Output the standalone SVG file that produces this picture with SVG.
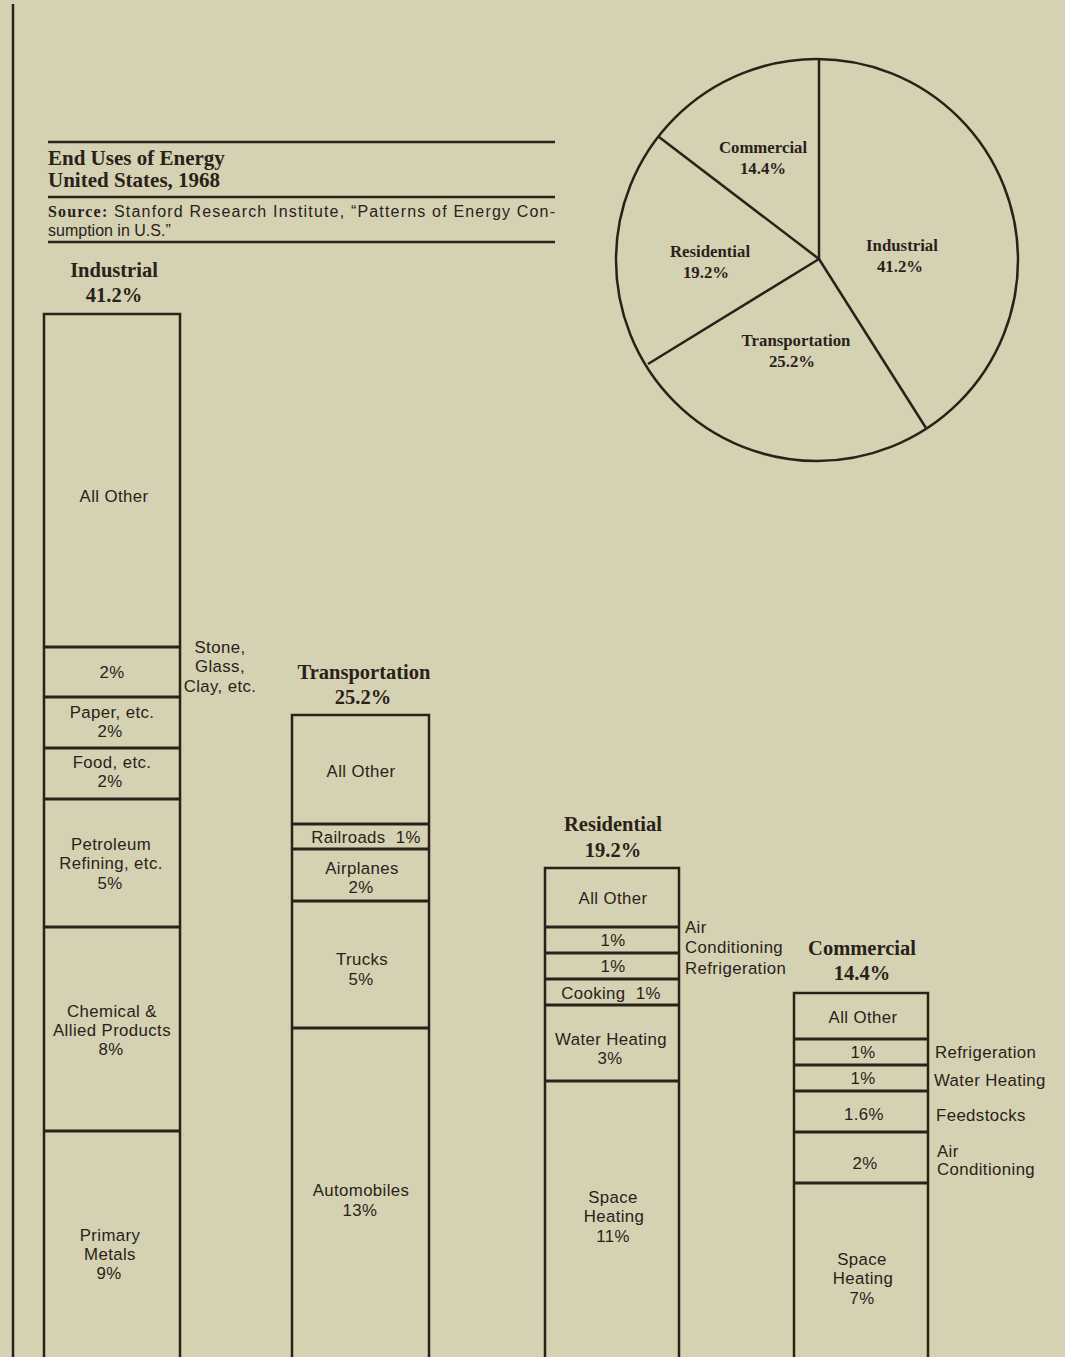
<svg xmlns="http://www.w3.org/2000/svg" width="1065" height="1357" viewBox="0 0 1065 1357">
<style>
.ln{stroke:#2b2119;stroke-width:2.5;fill:none}
.dv{stroke:#2b2119;stroke-width:3}
.t{font-family:"Liberation Sans",Arial,sans-serif;font-size:16.8px;fill:#2b2119;text-anchor:middle;letter-spacing:0.4px;white-space:pre}
.s{font-family:"Liberation Sans",Arial,sans-serif;font-size:16.8px;fill:#2b2119;letter-spacing:0.4px}
.h{font-family:"Liberation Serif","Times New Roman",serif;font-size:20.5px;font-weight:bold;fill:#2b2119;text-anchor:middle}
.p{font-family:"Liberation Serif","Times New Roman",serif;font-size:16.8px;font-weight:bold;fill:#2b2119;text-anchor:middle}
.ti{font-family:"Liberation Serif","Times New Roman",serif;font-size:21px;font-weight:bold;fill:#2b2119}
.src{font-family:"Liberation Sans",Arial,sans-serif;font-size:16px;fill:#2b2119}
</style>
<rect width="1065" height="1357" fill="#d4d2b3"/>
<line x1="13" y1="4" x2="13" y2="1357" class="ln" stroke-width="2"/>

<g id="title">
<line x1="48" y1="142" x2="555" y2="142" class="ln" stroke-width="1.8"/>
<text x="48" y="165" class="ti">End Uses of Energy</text>
<text x="48" y="187" class="ti">United States, 1968</text>
<line x1="48" y1="197" x2="555" y2="197" class="ln" stroke-width="1.8"/>
<text x="48" y="217" class="src" textLength="507" lengthAdjust="spacing"><tspan font-family="'Liberation Serif',serif" font-weight="bold">Source:</tspan> Stanford Research Institute, “Patterns of Energy Con-</text>
<text x="48" y="236" class="src">sumption in U.S.”</text>
<line x1="48" y1="242" x2="555" y2="242" class="ln" stroke-width="1.8"/>
</g>

<g id="pie">
<circle cx="817" cy="260" r="201" class="ln"/>
<g id="pie-connectors">
<line x1="819" y1="259" x2="819" y2="60" class="ln"/>
<line x1="819" y1="259" x2="926" y2="428" class="ln"/>
<line x1="819" y1="259" x2="648" y2="364" class="ln"/>
<line x1="819" y1="259" x2="659" y2="137" class="ln"/>
</g>
<text x="763" y="153" class="p">Commercial</text>
<text x="763" y="174" class="p">14.4%</text>
<text x="902" y="251" class="p">Industrial</text>
<text x="900" y="272" class="p">41.2%</text>
<text x="710" y="257" class="p">Residential</text>
<text x="706" y="278" class="p">19.2%</text>
<text x="796" y="346" class="p">Transportation</text>
<text x="792" y="367" class="p">25.2%</text>
</g>

<g id="industrial">
<text x="114" y="277" class="h">Industrial</text>
<text x="114" y="302" class="h">41.2%</text>
<rect x="44" y="314" width="136" height="1060" class="ln"/>
<line x1="44" y1="647" x2="180" y2="647" class="dv"/>
<line x1="44" y1="697" x2="180" y2="697" class="dv"/>
<line x1="44" y1="748" x2="180" y2="748" class="dv"/>
<line x1="44" y1="799" x2="180" y2="799" class="dv"/>
<line x1="44" y1="927" x2="180" y2="927" class="dv"/>
<line x1="44" y1="1131" x2="180" y2="1131" class="dv"/>
<text x="114" y="502" class="t">All Other</text>
<text x="112" y="678" class="t">2%</text>
<text x="112" y="718" class="t">Paper, etc.</text>
<text x="110" y="737" class="t">2%</text>
<text x="112" y="768" class="t">Food, etc.</text>
<text x="110" y="787" class="t">2%</text>
<text x="111" y="850" class="t">Petroleum</text>
<text x="111" y="869" class="t">Refining, etc.</text>
<text x="110" y="889" class="t">5%</text>
<text x="112" y="1017" class="t">Chemical &amp;</text>
<text x="112" y="1036" class="t">Allied Products</text>
<text x="111" y="1055" class="t">8%</text>
<text x="110" y="1241" class="t">Primary</text>
<text x="110" y="1260" class="t">Metals</text>
<text x="109" y="1279" class="t">9%</text>
<text x="220" y="653" class="t">Stone,</text>
<text x="220" y="672" class="t">Glass,</text>
<text x="220" y="692" class="t">Clay, etc.</text>
</g>

<g id="transportation">
<text x="364" y="679" class="h">Transportation</text>
<text x="363" y="704" class="h">25.2%</text>
<rect x="292" y="715" width="137" height="660" class="ln"/>
<line x1="292" y1="824" x2="429" y2="824" class="dv"/>
<line x1="292" y1="849" x2="429" y2="849" class="dv"/>
<line x1="292" y1="901" x2="429" y2="901" class="dv"/>
<line x1="292" y1="1028" x2="429" y2="1028" class="dv"/>
<text x="361" y="777" class="t">All Other</text>
<text x="366" y="843" class="t">Railroads  1%</text>
<text x="362" y="874" class="t">Airplanes</text>
<text x="361" y="893" class="t">2%</text>
<text x="362" y="965" class="t">Trucks</text>
<text x="361" y="985" class="t">5%</text>
<text x="361" y="1196" class="t">Automobiles</text>
<text x="360" y="1216" class="t">13%</text>
</g>

<g id="residential">
<text x="613" y="831" class="h">Residential</text>
<text x="613" y="857" class="h">19.2%</text>
<rect x="545" y="868" width="134" height="510" class="ln"/>
<line x1="545" y1="927" x2="679" y2="927" class="dv"/>
<line x1="545" y1="953" x2="679" y2="953" class="dv"/>
<line x1="545" y1="979" x2="679" y2="979" class="dv"/>
<line x1="545" y1="1005" x2="679" y2="1005" class="dv"/>
<line x1="545" y1="1081" x2="679" y2="1081" class="dv"/>
<text x="613" y="904" class="t">All Other</text>
<text x="613" y="946" class="t">1%</text>
<text x="613" y="972" class="t">1%</text>
<text x="611" y="999" class="t">Cooking  1%</text>
<text x="611" y="1045" class="t">Water Heating</text>
<text x="610" y="1064" class="t">3%</text>
<text x="613" y="1203" class="t">Space</text>
<text x="614" y="1222" class="t">Heating</text>
<text x="613" y="1242" class="t">11%</text>
<text x="685" y="933" class="s">Air</text>
<text x="685" y="953" class="s">Conditioning</text>
<text x="685" y="974" class="s">Refrigeration</text>
</g>

<g id="commercial">
<text x="862" y="955" class="h">Commercial</text>
<text x="862" y="980" class="h">14.4%</text>
<rect x="794" y="993" width="134" height="390" class="ln"/>
<line x1="794" y1="1039" x2="928" y2="1039" class="dv"/>
<line x1="794" y1="1065" x2="928" y2="1065" class="dv"/>
<line x1="794" y1="1091" x2="928" y2="1091" class="dv"/>
<line x1="794" y1="1132" x2="928" y2="1132" class="dv"/>
<line x1="794" y1="1183" x2="928" y2="1183" class="dv"/>
<text x="863" y="1023" class="t">All Other</text>
<text x="863" y="1058" class="t">1%</text>
<text x="863" y="1084" class="t">1%</text>
<text x="864" y="1120" class="t">1.6%</text>
<text x="865" y="1169" class="t">2%</text>
<text x="862" y="1265" class="t">Space</text>
<text x="863" y="1284" class="t">Heating</text>
<text x="862" y="1304" class="t">7%</text>
<text x="935" y="1058" class="s">Refrigeration</text>
<text x="934" y="1086" class="s">Water Heating</text>
<text x="936" y="1121" class="s">Feedstocks</text>
<text x="937" y="1157" class="s">Air</text>
<text x="937" y="1175" class="s">Conditioning</text>
</g>
</svg>
